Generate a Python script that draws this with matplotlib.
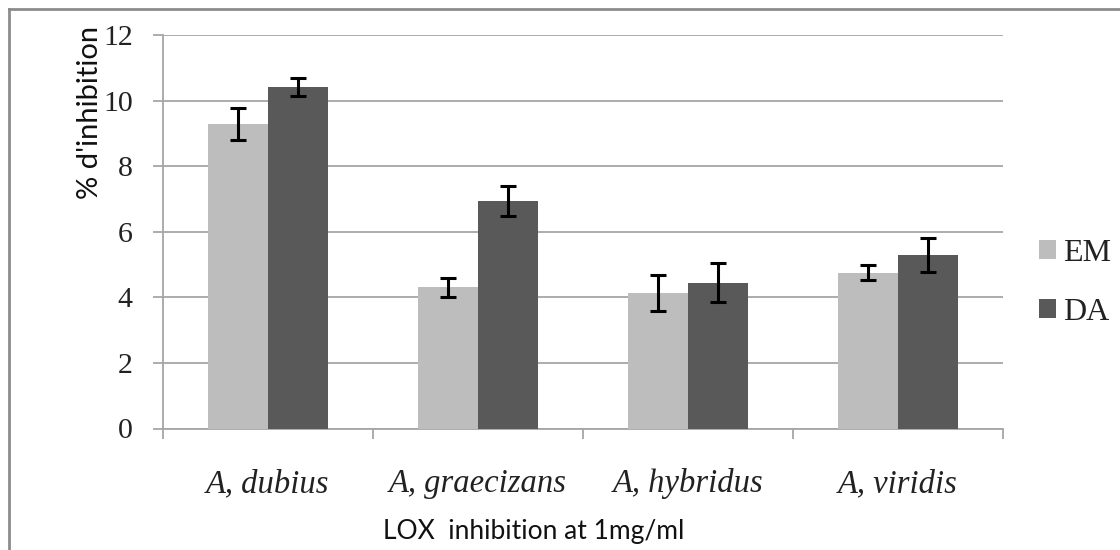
import matplotlib
matplotlib.use("Agg")
import matplotlib.pyplot as plt
import numpy as np
from matplotlib.lines import Line2D
from matplotlib.patches import Patch

categories = ["A, dubius", "A, graecizans", "A, hybridus", "A, viridis"]
em_values = [9.28, 4.30, 4.13, 4.75]
em_errors = [0.48, 0.28, 0.54, 0.23]
da_values = [10.42, 6.94, 4.45, 5.28]
da_errors = [0.27, 0.45, 0.60, 0.52]
series_names = ["EM", "DA"]
yticks = [0, 2, 4, 6, 8, 10, 12]

W, H = 1120, 550
fig = plt.figure(figsize=(W / 100, H / 100), dpi=100)
ax = fig.add_axes([162.7 / W, 1 - 428.5 / H, (1003 - 162.7) / W, (428.5 - 35) / H])

x = np.arange(len(categories))
bw = 0.285
c_em = "#bdbdbd"
c_da = "#595959"
grid_c = "#a6a6a6"

ax.bar(x - bw / 2, em_values, bw, color=c_em, zorder=3)
ax.bar(x + bw / 2, da_values, bw, color=c_da, zorder=3)
ekw = dict(fmt="none", ecolor="black", elinewidth=2.2, capsize=6, capthick=2.2, zorder=4)
ax.errorbar(x - bw / 2, em_values, yerr=em_errors, **ekw)
ax.errorbar(x + bw / 2, da_values, yerr=da_errors, **ekw)

ax.set_xlim(-0.5, len(categories) - 0.5)
ax.set_ylim(0, 12)
ax.set_yticks(yticks)
ax.yaxis.grid(True, color=grid_c, linewidth=1.3, zorder=0)
ax.set_axisbelow(True)
for s in ["top", "right"]:
    ax.spines[s].set_visible(False)
for s in ["left", "bottom"]:
    ax.spines[s].set_color(grid_c)
    ax.spines[s].set_linewidth(1.3)

ax.set_xticks(np.arange(-0.5, len(categories), 1.0))
ax.set_xticklabels([])
ax.tick_params(axis="x", length=7.5, width=1.3, color=grid_c, direction="out")
ax.tick_params(axis="y", length=7, width=1.3, color=grid_c, direction="out", pad=14.5)
for lbl in ax.get_yticklabels():
    lbl.set_fontfamily("Liberation Serif")
    lbl.set_fontsize(21.5)
    lbl.set_color("#222222")

for xi, name in zip(x, categories):
    ax.text(xi, -1.68, name, ha="center", va="center", fontsize=23.5,
            family="Liberation Serif", style="italic", color="#222222",
            transform=ax.transData)

fig.text(534 / W, 1 - 531 / H, "LOX  inhibition at 1mg/ml", ha="center", va="center",
         fontsize=19, family="Lato", color="#111111")
fig.text(90 / W, 1 - 112 / H, "% d'inhibition", ha="center", va="center",
         rotation=90, fontsize=21, family="Lato", color="#111111")

handles = [Patch(facecolor=c_em, edgecolor="none"), Patch(facecolor=c_da, edgecolor="none")]
leg = fig.legend(handles, series_names, loc="center left",
                 bbox_to_anchor=(1010 / W, 1 - 283 / H), frameon=False,
                 prop={"family": "Liberation Serif", "size": 23},
                 handlelength=0.55, handleheight=0.55, handletextpad=0.2,
                 labelspacing=0.95, labelcolor="#222222")

# outer border (top and left)
fig.add_artist(Line2D([9 / W, 1], [1 - 9 / H, 1 - 9 / H], color="#8c8c8c", lw=2, transform=fig.transFigure))
fig.add_artist(Line2D([9 / W, 9 / W], [0, 1 - 9 / H], color="#8c8c8c", lw=2, transform=fig.transFigure))

fig.savefig("out.png", dpi=100)
